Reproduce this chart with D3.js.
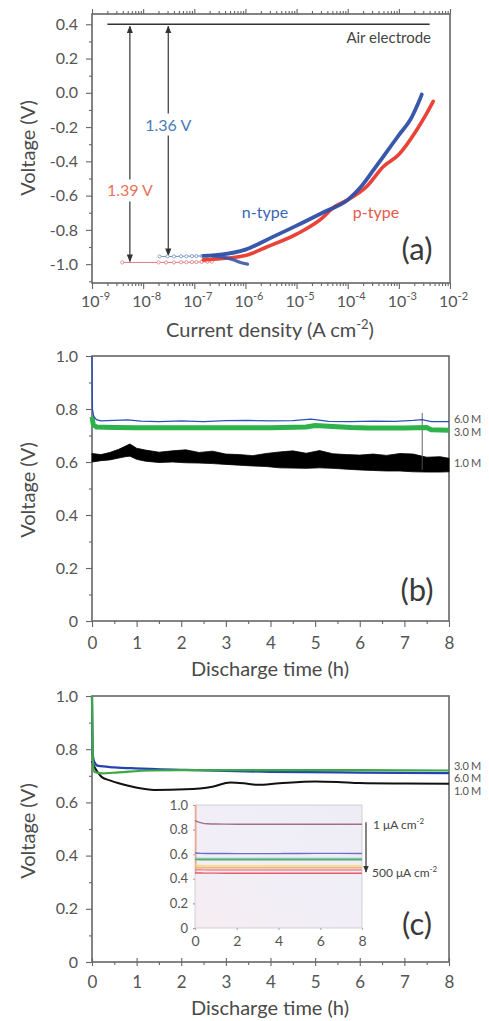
<!DOCTYPE html>
<html><head><meta charset="utf-8">
<script src="https://cdn.jsdelivr.net/npm/d3@7/dist/d3.min.js"></script>
<style>
html,body{margin:0;padding:0;background:#fff;}
svg{display:block;}
text{font-family:Lato,"Open Sans",sans-serif;}
</style></head><body>
<svg id="chart" width="489" height="1021"></svg>
<script>
// ================= DATA =================
// ---- panel (a): polarization curves ----
const aDecades = [1e-9,1e-8,1e-7,1e-6,1e-5,1e-4,1e-3,1e-2];
const aDecadeExp = ["-9","-8","-7","-6","-5","-4","-3","-2"];
const aYTicks = [0.4,0.2,0.0,-0.2,-0.4,-0.6,-0.8,-1.0];
const aYMinor = [0.3,0.1,-0.1,-0.3,-0.5,-0.7,-0.9,-1.1];
const nTypeJ = [1.5e-7,3.2e-7,1e-6,3.2e-6,1e-5,3.2e-5,1e-4,1.8e-4,3.2e-4,5.6e-4,1e-3,1.8e-3,2.4e-3,2.8e-3];
const nTypeV = [-0.952,-0.945,-0.915,-0.845,-0.775,-0.70,-0.625,-0.55,-0.45,-0.35,-0.247,-0.14,-0.06,-0.01];
const nRevJ = [2.3e-7,4e-7,6e-7,8e-7,1.1e-6];
const nRevV = [-0.952,-0.962,-0.976,-0.99,-1.0];
const nPlatJ = [2.1e-8,3e-8,4e-8,5.5e-8,7e-8,9e-8,1.1e-7,1.4e-7,1.8e-7,2.3e-7];
const nPlatV = [-0.955,-0.955,-0.955,-0.954,-0.954,-0.953,-0.953,-0.952,-0.952,-0.951];
const pTypeJ = [1.5e-7,3.2e-7,1e-6,2.6e-6,1e-5,3.2e-5,5.2e-5,1e-4,2.3e-4,5e-4,1e-3,2.2e-3,3.5e-3,4.7e-3];
const pTypeV = [-0.975,-0.968,-0.95,-0.90,-0.825,-0.73,-0.67,-0.625,-0.55,-0.43,-0.36,-0.22,-0.12,-0.05];
const pPlatJ = [3.9e-9,2e-8,2.8e-8,4e-8,5.5e-8,7e-8,9e-8,1.1e-7,1.4e-7,1.8e-7,2.2e-7];
const pPlatV = [-0.99,-0.99,-0.99,-0.99,-0.989,-0.989,-0.988,-0.988,-0.987,-0.986,-0.985];
const airJ = [2e-9,4e-3];
const airV = [0.4,0.4];
const gapArrows = [
  {j:5.5e-9, top:0.4, bottom:-0.99, label:"1.39 V", labelV:-0.57, color:"#e8735a"},
  {j:3.1e-8, top:0.4, bottom:-0.955, label:"1.36 V", labelV:-0.185, color:"#4a7db5"}
];

// ---- panel (b): discharge, Al-air with electrolyte concentration ----
const timeTicks = [0,1,2,3,4,5,6,7,8];
const timeMinor = [0.5,1.5,2.5,3.5,4.5,5.5,6.5,7.5];
const vTicks = [0,0.2,0.4,0.6,0.8,1.0];
const vMinor = [0.1,0.3,0.5,0.7,0.9];
const bBandT  = [0,0.2,0.4,0.6,0.75,0.85,1.0,1.2,1.5,1.8,2.1,2.4,2.7,3.0,3.3,3.6,3.9,4.2,4.5,4.8,5.1,5.4,5.7,6.0,6.3,6.6,6.9,7.2,7.5,7.8,8.0];
const bBandHi = [0.632,0.628,0.636,0.648,0.66,0.668,0.652,0.645,0.637,0.642,0.646,0.636,0.641,0.630,0.628,0.624,0.632,0.638,0.642,0.633,0.643,0.631,0.628,0.626,0.63,0.625,0.632,0.63,0.618,0.62,0.614];
const bBandLo = [0.600,0.605,0.608,0.615,0.62,0.622,0.610,0.603,0.598,0.600,0.597,0.596,0.594,0.591,0.588,0.585,0.583,0.578,0.577,0.576,0.578,0.576,0.573,0.570,0.568,0.566,0.566,0.563,0.562,0.562,0.563];
const bBlueT = [0,0.01,0.04,0.1,0.2,0.5,0.8,1.1,1.5,2,2.5,3,3.5,4,4.5,4.9,5.0,5.3,5.8,6.3,6.8,7.2,7.4,7.6,8];
const bBlueV = [1.0,0.8,0.772,0.76,0.755,0.757,0.759,0.754,0.752,0.755,0.752,0.756,0.757,0.755,0.756,0.762,0.760,0.753,0.752,0.754,0.753,0.757,0.76,0.752,0.752];
const bGreenT = [0,0.03,0.1,0.5,1,2,3,4,4.8,5.0,5.3,5.8,6.2,7,7.5,7.6,8];
const bGreenV = [0.77,0.74,0.732,0.73,0.729,0.729,0.729,0.729,0.732,0.738,0.735,0.73,0.728,0.728,0.73,0.722,0.72];
const bSpikeT = [7.4,7.4];
const bSpikeV = [0.57,0.785];
const bLabels = [{text:"6.0 M", v:0.762},{text:"3.0 M", v:0.713},{text:"1.0 M", v:0.596}];

// ---- panel (c): discharge, second series ----
const cBlackT = [0,0.05,0.12,0.22,0.4,0.6,0.96,1.4,2.1,2.7,3.1,3.4,3.7,4.2,5,5.5,6,7,8];
const cBlackV = [0.755,0.735,0.715,0.695,0.683,0.672,0.657,0.647,0.649,0.659,0.675,0.672,0.666,0.672,0.679,0.677,0.673,0.671,0.670];
const cBlueT = [0,0.02,0.05,0.14,0.5,0.96,2.1,3,4,6,8];
const cBlueV = [1.0,0.78,0.753,0.737,0.732,0.728,0.722,0.718,0.715,0.712,0.71];
const cGreenT = [0,0.02,0.05,0.2,0.6,1.3,2,4,6,8];
const cGreenV = [1.0,0.76,0.715,0.709,0.713,0.72,0.721,0.721,0.721,0.72];
const cLabels = [{text:"3.0 M", v:0.737},{text:"6.0 M", v:0.690},{text:"1.0 M", v:0.641}];

// ---- inset of (c): current density series ----
const insetT = [0,0.3,0.6,1,2,4,6,8];
const insetXTicks = [0,2,4,6,8];
const insetYTicks = [0,0.2,0.4,0.6,0.8,1.0];
const insetSeries = [
  {color:"#a07088", v:[0.873,0.855,0.847,0.845,0.844,0.843,0.844,0.844]},
  {color:"#6f6fcb", v:[0.61,0.607,0.606,0.606,0.605,0.605,0.607,0.606]},
  {color:"#78c8c0", v:[0.568,0.566,0.565,0.565,0.565,0.565,0.565,0.565]},
  {color:"#5aae5a", v:[0.556,0.555,0.555,0.555,0.555,0.555,0.555,0.555]},
  {color:"#f3d66a", v:[0.508,0.506,0.505,0.505,0.505,0.505,0.505,0.505]},
  {color:"#f2b07a", v:[0.492,0.49,0.49,0.49,0.49,0.49,0.49,0.49]},
  {color:"#f08a8a", v:[0.474,0.473,0.472,0.472,0.472,0.472,0.472,0.472]},
  {color:"#e65a6a", v:[0.447,0.447,0.446,0.446,0.445,0.445,0.445,0.445]}
];
const insetSpikeT = [0,0];
const insetSpikeV = [0.447,1.0];

// ================= DRAW =================
const svg = d3.select("#chart");
const FONT = 'Lato, "Open Sans", sans-serif';
const TXT = "#555";
const AX = "#666";

function styleAxis(g, fs){
  g.select(".domain").remove();
  g.selectAll(".tick line").attr("stroke",AX).attr("stroke-width",1.1);
  g.selectAll(".tick text").attr("fill",TXT).style("font-family",FONT).style("font-size",fs+"px");
}
function frame(x0,y0,x1,y1){
  svg.append("rect").attr("x",x0).attr("y",y0).attr("width",x1-x0).attr("height",y1-y0)
    .attr("fill","none").attr("stroke",AX).attr("stroke-width",1.6);
}
function ytitle(cy){
  svg.append("text").attr("transform",`translate(35,${cy}) rotate(-90)`).attr("text-anchor","middle")
    .attr("fill","#4a4a4a").style("font-size","20px").text("Voltage (V)");
}
function panelLabel(txt,x,y){
  svg.append("text").attr("x",x).attr("y",y).attr("text-anchor","middle").attr("fill","#3a3a3a")
    .style("font-size","31px").text(txt);
}

// arrow markers
const defs = svg.append("defs");
defs.append("marker").attr("id","ah").attr("viewBox","0 0 10 10").attr("refX",9).attr("refY",5)
  .attr("markerWidth",6).attr("markerHeight",6).attr("orient","auto-start-reverse")
  .append("path").attr("d","M0,1 L10,5 L0,9 Z").attr("fill","#333");
const grad = defs.append("linearGradient").attr("id","insetBg").attr("x1","1").attr("y1","0").attr("x2","0").attr("y2","1");
grad.append("stop").attr("offset","0").attr("stop-color","#eeedf6");
grad.append("stop").attr("offset","0.6").attr("stop-color","#f1eef6");
grad.append("stop").attr("offset","1").attr("stop-color","#f6edf1");

// ---------- Panel (a) ----------
const aX = d3.scaleLog().domain([1e-9,1e-2]).range([92,450]);
const aY = d3.scaleLinear().domain([-1.11,0.46]).range([283,14]);
const aMinorX = [];
aDecades.slice(0,-1).forEach(d=>{ for(let k=2;k<=9;k++) aMinorX.push(d*k); });

styleAxis(svg.append("g").attr("transform","translate(92,0)")
  .call(d3.axisLeft(aY).tickValues(aYTicks).tickSize(6).tickPadding(8).tickFormat(d=>d.toFixed(1))),16);
styleAxis(svg.append("g").attr("transform","translate(92,0)")
  .call(d3.axisLeft(aY).tickValues(aYMinor).tickSize(3).tickFormat("")),16);
const aBot = svg.append("g").attr("transform","translate(0,283)")
  .call(d3.axisBottom(aX).tickValues(aDecades).tickSize(6).tickFormat(""));
styleAxis(aBot,16);
styleAxis(svg.append("g").attr("transform","translate(0,283)")
  .call(d3.axisBottom(aX).tickValues(aMinorX).tickSize(3).tickFormat("")),16);
styleAxis(svg.append("g").attr("transform","translate(0,14)")
  .call(d3.axisTop(aX).tickValues(aDecades).tickSize(5).tickFormat("")),16);
styleAxis(svg.append("g").attr("transform","translate(0,14)")
  .call(d3.axisTop(aX).tickValues(aMinorX).tickSize(3).tickFormat("")),16);
aBot.selectAll(".tick").each(function(d,i){
  const t = d3.select(this).append("text").attr("y",24).attr("x",3).attr("text-anchor","middle")
    .attr("fill",TXT).style("font-size","16px");
  t.append("tspan").text("10");
  t.append("tspan").attr("dy",-7).style("font-size","11px").text(aDecadeExp[i]);
});
frame(92,14,450,283);

// air electrode line
svg.append("path").datum(airJ.map((j,i)=>[j,airV[i]]))
  .attr("d",d3.line().x(d=>aX(d[0])).y(d=>aY(d[1])))
  .attr("stroke","#333").attr("stroke-width",1.6).attr("fill","none");
svg.append("text").attr("x",431).attr("y",43).attr("text-anchor","end").attr("fill","#444")
  .style("font-size","15px").text("Air electrode");

// gap arrows
gapArrows.forEach(a=>{
  svg.append("line").attr("x1",aX(a.j)).attr("x2",aX(a.j)).attr("y1",aY(a.top)+2).attr("y2",aY(a.bottom)-1)
    .attr("stroke","#444").attr("stroke-width",1.3)
    .attr("marker-start","url(#ah)").attr("marker-end","url(#ah)");
  svg.append("rect").attr("x",aX(a.j)-24).attr("y",aY(a.labelV)-11).attr("width",48).attr("height",22).attr("fill","#fff");
  svg.append("text").attr("x",aX(a.j)).attr("y",aY(a.labelV)+6).attr("text-anchor","middle")
    .attr("fill",a.color).style("font-size","16px").text(a.label);
});

const aLine = d3.line().x(d=>aX(d[0])).y(d=>aY(d[1])).curve(d3.curveMonotoneX);
function zipA(J,V){ return J.map((j,i)=>[j,V[i]]); }
[[pPlatJ,pPlatV,"#e07a80"],[nPlatJ,nPlatV,"#6f8fc8"]].forEach(([J,V,c])=>{
  svg.append("path").datum(zipA(J,V)).attr("d",aLine).attr("fill","none").attr("stroke",c).attr("stroke-width",1);
  svg.append("g").selectAll("circle").data(zipA(J,V)).join("circle")
    .attr("cx",d=>aX(d[0])).attr("cy",d=>aY(d[1])).attr("r",1.6).attr("fill","#fff").attr("stroke",c).attr("stroke-width",0.8);
});
svg.append("path").datum(zipA(pTypeJ,pTypeV)).attr("d",aLine).attr("fill","none")
  .attr("stroke","#e8392c").attr("stroke-width",3.6).attr("stroke-linecap","round").attr("opacity",0.95);
svg.append("path").datum(zipA(nRevJ,nRevV)).attr("d",aLine).attr("fill","none")
  .attr("stroke","#3a55a8").attr("stroke-width",3.2).attr("stroke-linecap","round").attr("opacity",0.9);
svg.append("path").datum(zipA(nTypeJ,nTypeV)).attr("d",aLine).attr("fill","none")
  .attr("stroke","#2f4fa6").attr("stroke-width",3.8).attr("stroke-linecap","round").attr("opacity",0.95);
svg.append("text").attr("x",265).attr("y",218).attr("text-anchor","middle").attr("fill","#3a66b3")
  .style("font-size","16px").text("n-type");
svg.append("text").attr("x",376).attr("y",218).attr("text-anchor","middle").attr("fill","#e55a4a")
  .style("font-size","16px").text("p-type");
panelLabel("(a)",417,260);
ytitle(148);
const at = svg.append("text").attr("x",270).attr("y",337).attr("text-anchor","middle").attr("fill","#4a4a4a").style("font-size","20px");
at.append("tspan").text("Current density (A cm");
at.append("tspan").attr("dy",-8).style("font-size","13px").text("-2");
at.append("tspan").attr("dy",8).text(")");

// ---------- helper for time panels ----------
function timePanel(yTop,yBot,crossTicks){
  const x = d3.scaleLinear().domain([0,8]).range([92,449]);
  const y = d3.scaleLinear().domain([0,1]).range([yBot,yTop]);
  styleAxis(svg.append("g").attr("transform","translate(92,0)")
    .call(d3.axisLeft(y).tickValues(vTicks).tickSize(6).tickPadding(8).tickFormat(d=>d===0?"0":d.toFixed(1))),16);
  styleAxis(svg.append("g").attr("transform","translate(92,0)")
    .call(d3.axisLeft(y).tickValues(vMinor).tickSize(3).tickFormat("")),16);
  styleAxis(svg.append("g").attr("transform",`translate(0,${yBot})`)
    .call(d3.axisBottom(x).tickValues(timeTicks).tickSize(crossTicks?4:6).tickPadding(crossTicks?10:10).tickFormat(d3.format("d"))),17);
  styleAxis(svg.append("g").attr("transform",`translate(0,${yBot})`)
    .call(d3.axisBottom(x).tickValues(timeMinor).tickSize(3).tickFormat("")),17);
  if(crossTicks){
    styleAxis(svg.append("g").attr("transform",`translate(0,${yBot})`)
      .call(d3.axisTop(x).tickValues(timeTicks).tickSize(4).tickFormat("")),17);
  }
  frame(92,yTop,449,yBot);
  return {x,y};
}
function sideLabels(list, yScale){
  list.forEach(l=>svg.append("text").attr("x",454).attr("y",yScale(l.v)+4).attr("fill","#555")
    .style("font-size","11px").style("letter-spacing","-0.3px").text(l.text));
}

// ---------- Panel (b) ----------
const B = timePanel(356,621,false);
svg.append("path").datum(bBandT.map((t,i)=>[t,bBandLo[i],bBandHi[i]]))
  .attr("d",d3.area().x(d=>B.x(d[0])).y0(d=>B.y(d[1])).y1(d=>B.y(d[2])))
  .attr("fill","#000").attr("stroke","#000").attr("stroke-width",0.8);
svg.append("path").datum(bSpikeT.map((t,i)=>[t,bSpikeV[i]]))
  .attr("d",d3.line().x(d=>B.x(d[0])).y(d=>B.y(d[1]))).attr("stroke","#555").attr("stroke-width",0.9);
svg.append("path").datum(bGreenT.map((t,i)=>[t,bGreenV[i]]))
  .attr("d",d3.line().x(d=>B.x(d[0])).y(d=>B.y(d[1]))).attr("fill","none")
  .attr("stroke","#2db34a").attr("stroke-width",5);
svg.append("path").datum(bBlueT.map((t,i)=>[t,bBlueV[i]]))
  .attr("d",d3.line().x(d=>B.x(d[0])).y(d=>B.y(d[1]))).attr("fill","none")
  .attr("stroke","#2d4fb5").attr("stroke-width",1.3);
sideLabels(bLabels,B.y);
panelLabel("(b)",417,601);
ytitle(490);
svg.append("text").attr("x",270).attr("y",676).attr("text-anchor","middle").attr("fill","#4a4a4a")
  .style("font-size","20px").text("Discharge time (h)");

// ---------- Panel (c) ----------
const C = timePanel(696,962,true);
const cLine = d3.line().x(d=>C.x(d[0])).y(d=>C.y(d[1])).curve(d3.curveMonotoneX);
svg.append("path").datum(cBlackT.map((t,i)=>[t,cBlackV[i]])).attr("d",cLine).attr("fill","none")
  .attr("stroke","#111").attr("stroke-width",2);
svg.append("path").datum(cBlueT.map((t,i)=>[t,cBlueV[i]])).attr("d",cLine).attr("fill","none")
  .attr("stroke","#2443b0").attr("stroke-width",2.2);
svg.append("path").datum(cGreenT.map((t,i)=>[t,cGreenV[i]])).attr("d",cLine).attr("fill","none")
  .attr("stroke","#3aa845").attr("stroke-width",2.2);
sideLabels(cLabels,C.y);
panelLabel("(c)",417,935);
ytitle(831);
svg.append("text").attr("x",270).attr("y",1015).attr("text-anchor","middle").attr("fill","#4a4a4a")
  .style("font-size","20px").text("Discharge time (h)");

// ---------- Inset ----------
const iX = d3.scaleLinear().domain([0,8]).range([195,362]);
const iY = d3.scaleLinear().domain([0,1]).range([928,805]);
svg.append("rect").attr("x",195).attr("y",805).attr("width",167).attr("height",123)
  .attr("fill","url(#insetBg)").attr("stroke","#c8c4cc").attr("stroke-width",0.8);
const iL = svg.append("g").attr("transform","translate(195,0)")
  .call(d3.axisLeft(iY).tickValues(insetYTicks).tickSize(2).tickPadding(5).tickFormat(d=>d===0?"0":d.toFixed(1)));
styleAxis(iL,13);
iL.selectAll(".tick line").attr("stroke","#d09090");
const iB = svg.append("g").attr("transform","translate(0,928)")
  .call(d3.axisBottom(iX).tickValues(insetXTicks).tickSize(2).tickPadding(6).tickFormat(d3.format("d")));
styleAxis(iB,14);
iB.selectAll(".tick line").attr("stroke","#b0a8b8");
const iLine = d3.line().x(d=>iX(d[0])).y(d=>iY(d[1])).curve(d3.curveMonotoneX);
svg.append("path").datum(insetSpikeT.map((t,i)=>[t,insetSpikeV[i]]))
  .attr("d",d3.line().x(d=>iX(d[0])+0.8).y(d=>iY(d[1]))).attr("stroke","#f0a088").attr("stroke-width",1.4);
insetSeries.forEach(s=>{
  svg.append("path").datum(insetT.map((t,i)=>[t,s.v[i]])).attr("d",iLine).attr("fill","none")
    .attr("stroke",s.color).attr("stroke-width",1.4);
});
svg.append("line").attr("x1",366).attr("x2",366).attr("y1",iY(0.86)).attr("y2",iY(0.455))
  .attr("stroke","#333").attr("stroke-width",1.2).attr("marker-end","url(#ah)");
const l1 = svg.append("text").attr("x",373).attr("y",829).attr("fill","#444").style("font-size","12px");
l1.append("tspan").text("1 μA cm");
l1.append("tspan").attr("dy",-5).style("font-size","8px").text("-2");
const l2 = svg.append("text").attr("x",372).attr("y",877).attr("fill","#444").style("font-size","12px");
l2.append("tspan").text("500 μA cm");
l2.append("tspan").attr("dy",-5).style("font-size","8px").text("-2");
</script>
</body></html>
